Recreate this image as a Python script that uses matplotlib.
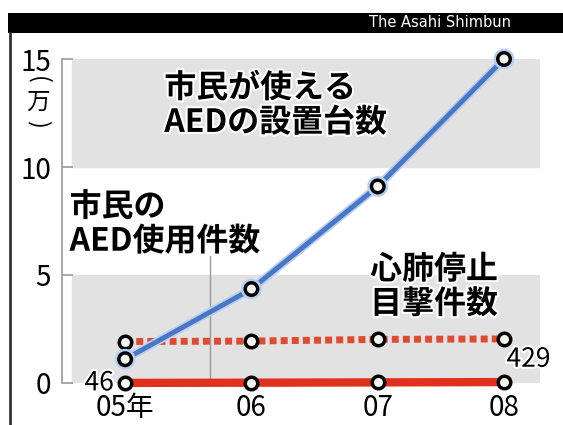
import numpy as np
import matplotlib
matplotlib.use('Agg')
import matplotlib.pyplot as plt
import matplotlib.patheffects as pe
from matplotlib.lines import Line2D
from matplotlib.patches import Rectangle

plt.rcParams['font.family'] = ['Noto Sans CJK JP', 'DejaVu Sans']

# values in units of 10,000 (万)
years = ['05年', '06', '07', '08']
aed_installed = [1.1, 4.35, 9.1, 15.0]        # 市民が使えるAEDの設置台数
arrest_witnessed = [1.92, 1.94, 2.02, 2.04]    # 心肺停止目撃件数
aed_used = [0.0046, 0.0144, 0.0287, 0.0429]   # 市民のAED使用件数
aed_used_labels = ['46', '429']

x = np.arange(len(years))

fig = plt.figure(figsize=(5.63, 4.25), dpi=100)
fig.patch.set_facecolor('white')

# header bar
fig.add_artist(Rectangle((8 / 563, 0.922), 1, 0.047, transform=fig.transFigure,
                         facecolor='black', edgecolor='none'))
fig.text(0.655, 0.946, 'The Asahi Shimbun', color='white', fontsize=10.5,
         ha='left', va='center', family='DejaVu Sans')
# left frame edge
fig.add_artist(Line2D([10 / 563, 10 / 563], [0, 0.922], transform=fig.transFigure,
                      color='#333333', lw=2))

ax = fig.add_axes([62 / 563, 42 / 425, 478 / 563, 324 / 425])
ax.set_xlim(-0.5, 3.285)
ax.set_ylim(0, 15)

# alternating bands
ax.axhspan(0, 5, xmin=0.02, color='#e2e2e2', zorder=0)
ax.axhspan(10, 15, xmin=0.02, color='#e2e2e2', zorder=0)

for s in ['top', 'right', 'bottom']:
    ax.spines[s].set_visible(False)
ax.spines['left'].set_color('#999999')
ax.spines['left'].set_linewidth(1.2)
ax.set_yticks([0, 5, 10, 15])
ax.set_yticklabels(['0', '5', '10', '15'], fontsize=20)
ax.tick_params(axis='y', direction='in', length=8, width=1.2, color='#999999', pad=8)
ax.set_xticks(x)
ax.set_xticklabels(years, fontsize=20)
ax.tick_params(axis='x', length=0, pad=7)

# leader line for the usage label
ax.plot([0.673, 0.673], [0, 5.9], color='#999999', lw=1, zorder=1)

mk = dict(marker='o', markersize=9, markerfacecolor='#f4f4f0',
          markeredgecolor='black', markeredgewidth=2.5, clip_on=False)

ax.plot(x, aed_used, color='#e0301e', lw=6, zorder=3, **mk)
ax.plot(x, arrest_witnessed, color='#e04a30', lw=5, linestyle=(0, (1.0, 0.6)),
        zorder=3, **mk)
ax.plot(x, aed_installed, color='#4a76c6', lw=3.5, zorder=4,
        path_effects=[pe.Stroke(linewidth=6, foreground='#b8d0f0'), pe.Normal()], **mk)

halo = [pe.withStroke(linewidth=3, foreground='white')]
ax.text(0.31, 11.3, '市民が使える\nAEDの設置台数', fontsize=23, fontweight='bold',
        ha='left', va='bottom', linespacing=1.1, path_effects=halo, zorder=5)
ax.text(-0.44, 5.8, '市民の\nAED使用件数', fontsize=23, fontweight='bold',
        ha='left', va='bottom', linespacing=1.1, path_effects=halo, zorder=5)
ax.text(1.94, 2.9, '心肺停止\n目撃件数', fontsize=23, fontweight='bold',
        ha='left', va='bottom', linespacing=1.1, path_effects=halo, zorder=5)

ax.text(x[0] - 0.09, aed_used[0], aed_used_labels[0], fontsize=19,
        ha='right', va='center', path_effects=halo, zorder=5)
ax.text(x[-1] + 0.02, 1.1, aed_used_labels[1], fontsize=19,
        ha='left', va='center', path_effects=halo, zorder=5)

# unit label, written vertically: turned brackets around 万
ux = 38 / 563
fig.text(ux, 1 - 80 / 425, '(', fontsize=17, rotation=-90, ha='center', va='center')
fig.text(ux, 1 - 102 / 425, '万', fontsize=17, ha='center', va='center')
fig.text(ux, 1 - 124 / 425, ')', fontsize=17, rotation=-90, ha='center', va='center')

fig.savefig('out.png', dpi=100)
